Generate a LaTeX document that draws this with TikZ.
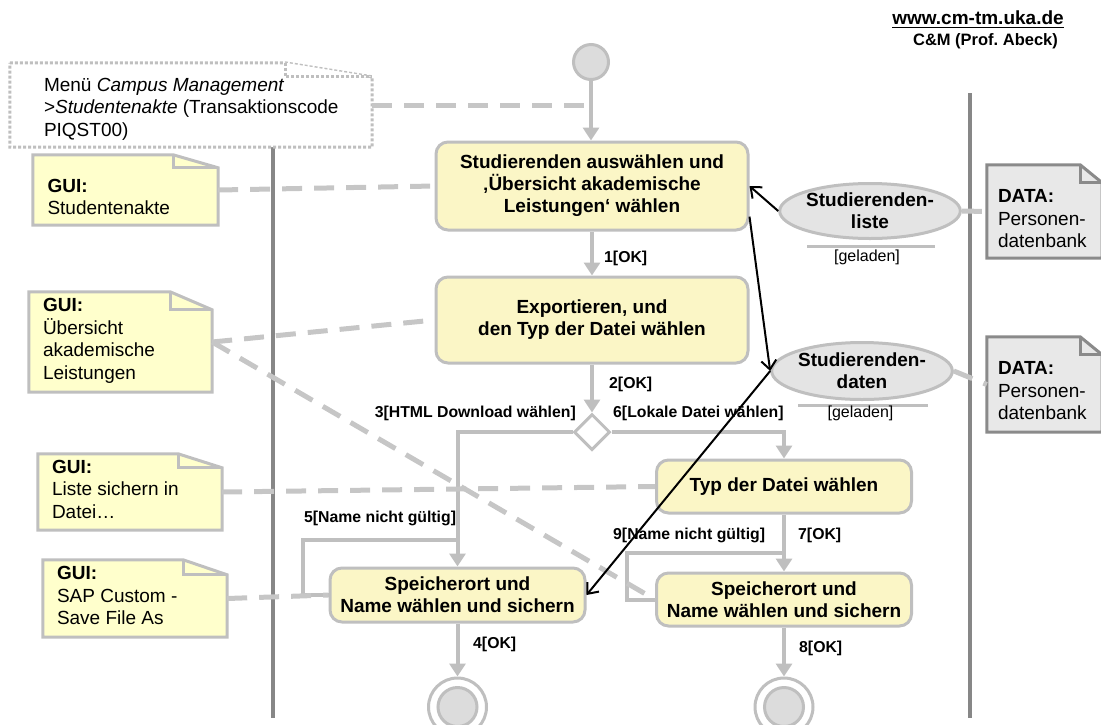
\documentclass[tikz,border=0pt]{standalone}
\usepackage{fontspec}
\setmainfont{Liberation Sans}
\usetikzlibrary{arrows.meta,shapes.geometric}
\frenchspacing
\definecolor{boxfill}{HTML}{FBF6C6}
\definecolor{notefill}{HTML}{FFFFCC}
\definecolor{edgegray}{HTML}{BFBFBF}
\definecolor{dashgray}{HTML}{C6C6C6}
\definecolor{lanegray}{HTML}{878787}
\definecolor{objfill}{HTML}{E4E4E4}
\definecolor{datafill}{HTML}{E8E8E8}
\definecolor{datadraw}{HTML}{8A8A8A}
\definecolor{startfill}{HTML}{DCDCDC}
\newcommand\boxfont{\bfseries\fontsize{19}{22}\selectfont}
\newcommand\notefont{\fontsize{19}{22.5}\selectfont}
\newcommand\lblfont{\bfseries\fontsize{15.8}{18}\selectfont}
\newcommand\drawnote[5]{%
  \draw[#4] (#1.north west) -- ([xshift=-#2]#1.north east) -- ([yshift=-#3]#1.north east) -- (#1.south east) -- (#1.south west) -- cycle;
  \draw[#5] ([xshift=-#2]#1.north east) -- ([xshift=-#2,yshift=-#3]#1.north east) -- ([yshift=-#3]#1.north east);
}
\begin{document}
\begin{tikzpicture}[x=1pt,y=-1pt,
  actbox/.style={draw=edgegray, line width=3pt, fill=boxfill, rounded corners=12pt, font=\boxfont, align=center, inner sep=0pt},
  flow/.style={draw=edgegray, line width=4pt, -{Triangle[length=13pt,width=16pt]}},
  flowline/.style={draw=edgegray, line width=4pt},
  annot/.style={draw=dashgray, line width=5pt, dash pattern=on 20pt off 12pt},
  objflow/.style={draw=black, line width=2pt, -{Straight Barb[length=9pt,width=15pt,line width=2pt]}},
  lane/.style={draw=lanegray, line width=4pt},
  notebox/.style={rectangle, inner sep=0pt},
  notetext/.style={align=left, inner sep=0pt, font=\notefont},
  guistyle/.style={draw=edgegray, fill=notefill, line width=3pt, line join=miter},
  guifold/.style={draw=edgegray, line width=3pt},
  datastyle/.style={draw=datadraw, fill=datafill, line width=3pt},
  datafold/.style={draw=datadraw, line width=3pt},
  menustyle/.style={draw=edgegray, fill=white, line width=3pt, dash pattern=on 3pt off 2pt},
  lbl/.style={font=\lblfont, inner sep=0pt},
  obj/.style={ellipse, draw=edgegray, line width=3pt, fill=objfill, inner sep=0pt, font=\boxfont, align=center},
  statelbl/.style={font=\fontsize{16}{18}\selectfont, inner sep=0pt}
]
\useasboundingbox (0,0) rectangle (1101,724);

% swimlanes
\draw[lane] (273,147) -- (273,718);
\draw[lane] (970,93) -- (970,718);

% header
\node[font=\bfseries\fontsize{19}{22}\selectfont, inner sep=0pt, anchor=base] (url) at (978,24) {www.cm-tm.uka.de};
\draw[line width=1.8pt] ([yshift=-3.5pt]url.base west) -- ([yshift=-3.5pt]url.base east);
\node[font=\bfseries\fontsize{16.5}{18}\selectfont, inner sep=0pt, anchor=base] (cm) at (985.5,45) {C\&M (Prof. Abeck)};

% notes (text nodes: base = baseline of last line)
\node[notebox, minimum width=362pt, minimum height=84pt] (menu) at (191,105) {};
\drawnote{menu}{87pt}{14pt}{menustyle}{menustyle}
\node[notetext, anchor=base west] (menut) at ([xshift=34pt,yshift=-73.5pt]menu.north west) {Menü \textit{Campus Management}\\>\textit{Studentenakte} (Transaktionscode\\PIQST00)};

\node[notebox, minimum width=185pt, minimum height=70pt] (gui1) at (125.5,190) {};
\drawnote{gui1}{45pt}{13pt}{guistyle}{guifold}
\node[notetext, anchor=base west] (gui1t) at ([xshift=14.5pt,yshift=-60pt]gui1.north west) {\textbf{GUI:}\\Studentenakte};

\node[notebox, minimum width=183pt, minimum height=100pt] (gui2) at (120.5,342) {};
\drawnote{gui2}{42pt}{18pt}{guistyle}{guifold}
\node[notetext, anchor=base west] (gui2t) at ([xshift=14pt,yshift=-87.2pt]gui2.north west) {\textbf{GUI:}\\Übersicht\\akademische\\Leistungen};

\node[notebox, minimum width=184pt, minimum height=76pt] (gui3) at (130,492) {};
\drawnote{gui3}{44pt}{14pt}{guistyle}{guifold}
\node[notetext, anchor=base west] (gui3t) at ([xshift=14pt,yshift=-64.3pt]gui3.north west) {\textbf{GUI:}\\Liste sichern in\\Datei…};

\node[notebox, minimum width=184pt, minimum height=77pt] (gui4) at (135,598.5) {};
\drawnote{gui4}{44pt}{15pt}{guistyle}{guifold}
\node[notetext, anchor=base west] (gui4t) at ([xshift=14pt,yshift=-65pt]gui4.north west) {\textbf{GUI:}\\SAP Custom -\\Save File As};

\node[notebox, minimum width=115pt, minimum height=93pt] (data1) at (1044.5,211.5) {};
\drawnote{data1}{22pt}{18pt}{datastyle}{datafold}
\node[notetext, anchor=base west] (data1t) at ([xshift=11pt,yshift=-83pt]data1.north west) {\textbf{DATA:}\\Personen-\\datenbank};

\node[notebox, minimum width=115pt, minimum height=95pt] (data2) at (1044.5,384.5) {};
\drawnote{data2}{22pt}{18pt}{datastyle}{datafold}
\node[notetext, anchor=base west] (data2t) at ([xshift=11pt,yshift=-83pt]data2.north west) {\textbf{DATA:}\\Personen-\\datenbank};

% activity nodes
\node[circle, draw=edgegray, line width=3pt, fill=startfill, minimum size=35pt, inner sep=0pt] (start) at (591,62) {};
\node[actbox, minimum width=312pt, minimum height=88pt] (box1) at (592,186) {Studierenden auswählen und\\‚Übersicht akademische\\Leistungen‘ wählen};
\node[actbox, minimum width=312pt, minimum height=86pt] (box2) at (592,320) {Exportieren, und\\den Typ der Datei wählen};
\node[diamond, draw=edgegray, line width=3pt, fill=white, minimum width=36pt, minimum height=36pt, inner sep=0pt] (dec) at (592,432) {};
\node[actbox, minimum width=255pt, minimum height=53pt] (typ) at (784,486.5) {Typ der Datei wählen};
\node[actbox, minimum width=255pt, minimum height=54pt] (box3) at (457.5,595) {Speicherort und\\Name wählen und sichern};
\node[actbox, minimum width=255pt, minimum height=53pt] (box4) at (784,599.5) {Speicherort und\\Name wählen und sichern};
\node[circle, draw=edgegray, line width=3pt, fill=white, minimum size=58pt, inner sep=0pt] (end1) at (457.5,707) {};
\node[circle, draw=edgegray, line width=3pt, fill=startfill, minimum size=39pt, inner sep=0pt] (end1i) at (457.5,707) {};
\node[circle, draw=edgegray, line width=3pt, fill=white, minimum size=58pt, inner sep=0pt] (end2) at (784,707) {};
\node[circle, draw=edgegray, line width=3pt, fill=startfill, minimum size=39pt, inner sep=0pt] (end2i) at (784,707) {};

% object nodes
\node[obj, minimum width=145pt, minimum height=55pt] (liste) at (870,211) {Studierenden-\\liste};
\draw[edgegray, line width=3pt] ([xshift=-63pt,yshift=-6pt]liste.south) -- ([xshift=65pt,yshift=-6pt]liste.south);
\node[statelbl] (listes) at (867,257) {[geladen]};
\node[obj, minimum width=149pt, minimum height=57pt] (daten) at (862,371) {Studierenden-\\daten};
\draw[edgegray, line width=3pt] ([xshift=-64pt,yshift=-4pt]daten.south) -- ([xshift=66pt,yshift=-4pt]daten.south);
\node[statelbl] (datens) at (860.5,413) {[geladen]};

% control flow
\coordinate (menuhit) at (start |- menu.east);
\draw[flow] (start) -- (start |- box1.north);
\draw[flow] (box1.south) -- (box2.north);
\draw[flow] (box2.south) -- (dec.north);
\draw[flow] (dec.west) -| (box3.north);
\draw[flow] (dec.east) -| (typ.north);
\draw[flow] (typ.south) -- (box4.north);
\draw[flow] (box3.south) -- (end1.north);
\draw[flow] (box4.south) -- (end2.north);
\coordinate (l5) at (303,540);
\coordinate (j5) at (457.5,540);
\draw[flowline] (box3.west) -| (l5) -- (j5);
\coordinate (l9) at (627,553);
\coordinate (j9) at (784,553);
\draw[flowline] (box4.west) -| (l9) -- (j9);

% labels
\node[lbl, anchor=west] (e1) at (604,258) {1[OK]};
\node[lbl, anchor=west] (e2) at (609,384) {2[OK]};
\node[lbl, anchor=east] (e3) at (576,413) {3[HTML Download wählen]};
\node[lbl, anchor=west] (e6) at (613,413) {6[Lokale Datei wählen]};
\node[lbl, anchor=west] (e5) at (304,518) {5[Name nicht gültig]};
\node[lbl, anchor=west] (e9) at (613,535) {9[Name nicht gültig]};
\node[lbl, anchor=west] (e7) at (798,535) {7[OK]};
\node[lbl, anchor=west] (e4) at (473,644) {4[OK]};
\node[lbl, anchor=west] (e8) at (799,648) {8[OK]};

% annotation links
\draw[annot] (menu.east) -- (menuhit);
\draw[annot] (gui1.east) -- (box1.west);
\draw[annot] (gui2.east) -- (box2.west);
\draw[annot] (gui2.east) -- (box4.west);
\draw[annot] (gui3.east) -- (typ.west);
\draw[annot] (gui4.east) -- (box3.west);
\draw[annot] (liste.east) -- (data1.west);
\draw[annot] (daten.east) -- (data2.west);

% object flows
\draw[objflow] (liste.west) -- (box1.east);
\draw[objflow] (box1.-11) -- (daten.west);
\draw[objflow] (daten.west) -- (box3.east);
\end{tikzpicture}
\end{document}
